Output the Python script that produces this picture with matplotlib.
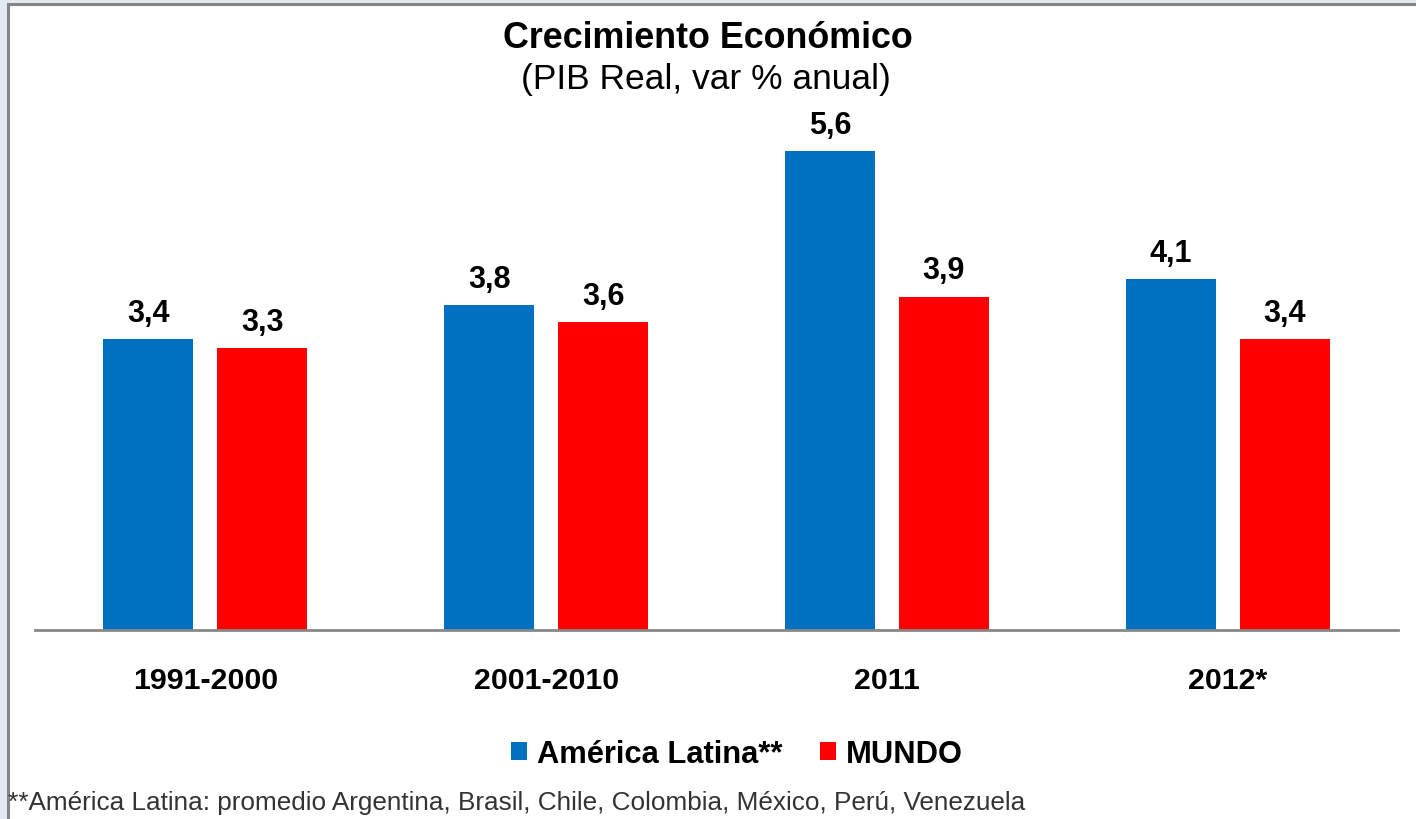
import numpy as np
import matplotlib.pyplot as plt
from matplotlib.patches import Rectangle
from matplotlib.lines import Line2D

# data
categories = ["1991-2000", "2001-2010", "2011", "2012*"]
latam = [3.4, 3.8, 5.6, 4.1]
mundo = [3.3, 3.6, 3.9, 3.4]
series_names = ["América Latina**", "MUNDO"]
footnote = "**América Latina: promedio Argentina, Brasil, Chile, Colombia, México, Perú, Venezuela"

plt.rcParams['font.family'] = ['Liberation Sans', 'DejaVu Sans']

W, H = 1416, 820
fig = plt.figure(figsize=(W / 100, H / 100), dpi=100, facecolor='#E4E9F1')

# white panel with grey border on left and top
fig.patches.append(Rectangle((9 / W, 0), 1, 1 - 6 / H, transform=fig.transFigure,
                             facecolor='white', edgecolor='none', zorder=-2))
fig.lines.append(Line2D([8 / W, 8 / W], [0, 1 - 5 / H], transform=fig.transFigure,
                        color='#858585', lw=2.2, zorder=-1))
fig.lines.append(Line2D([8 / W, 1], [1 - 5 / H, 1 - 5 / H], transform=fig.transFigure,
                        color='#858585', lw=2.2, zorder=-1))

ax_left, ax_right = 35 / W, 1398 / W
ax_bottom, ax_top = 1 - 631 / H, 1 - 118 / H
ax = fig.add_axes([ax_left, ax_bottom, ax_right - ax_left, ax_top - ax_bottom])
ax.set_facecolor('none')

x = np.arange(len(categories))
width = 0.264
offset = 0.167
b1 = ax.bar(x - offset, latam, width, color='#0070C0', label=series_names[0])
b2 = ax.bar(x + offset, mundo, width, color='#FF0000', label=series_names[1])

for bars, vals in [(b1, latam), (b2, mundo)]:
    for rect, v in zip(bars, vals):
        ax.annotate(f"{v:.1f}".replace('.', ','),
                    (rect.get_x() + rect.get_width() / 2, v),
                    xytext=(0, 13), textcoords='offset points',
                    ha='center', va='baseline', fontsize=22, fontweight='bold')

ax.set_xlim(-0.5, len(categories) - 0.5)
ax.set_ylim(0, 6.0)
for s in ['top', 'right', 'left']:
    ax.spines[s].set_visible(False)
ax.spines['bottom'].set_color('#888888')
ax.spines['bottom'].set_linewidth(2)
ax.set_yticks([])
ax.set_xticks(x)
ax.set_xticklabels(categories, fontsize=21.9, fontweight='bold')
ax.tick_params(axis='x', length=0, pad=26)

fig.text(708 / W, 1 - 38 / H, "Crecimiento Económico", ha='center', va='center',
         fontsize=25.8, fontweight='bold')
fig.text(706 / W, 1 - 79 / H, "(PIB Real, var % anual)", ha='center', va='center',
         fontsize=25.5)

leg = fig.legend(handles=[b1, b2], loc='center', bbox_to_anchor=(737 / W, 1 - 755 / H),
                 ncol=2, frameon=False, prop={'size': 22.2, 'weight': 'bold'},
                 handlelength=0.52, handleheight=0.52, handletextpad=0.32,
                 columnspacing=1.24)

fig.text(8 / W, 1 - 803 / H, footnote, ha='left', va='center', fontsize=18.8,
         color='#333333')

fig.savefig("out.png", dpi=100, facecolor=fig.get_facecolor())
